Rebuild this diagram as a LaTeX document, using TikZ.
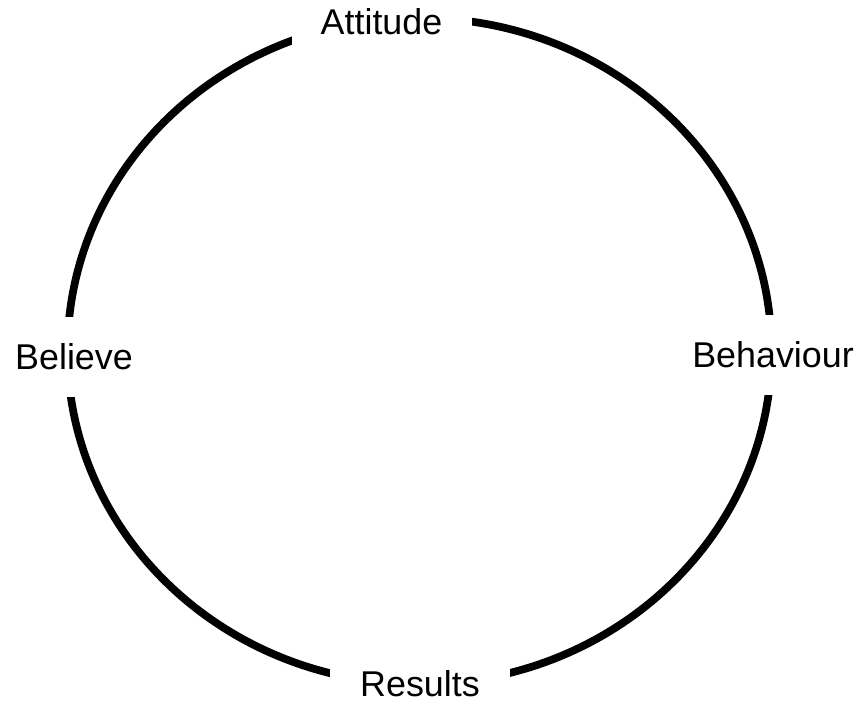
\documentclass[tikz,border=0pt]{standalone}
\usepackage{fontspec}
\setmainfont{Liberation Sans}
\usepackage{tikz}
\usetikzlibrary{positioning}

\begin{document}
\begin{tikzpicture}[
    ring/.style={line width=2.2pt},
    lbl/.style={fill=white, inner sep=0pt, align=center, font=\fontsize{10.2}{12}\selectfont},
    toplbl/.style={lbl, minimum width=1.8cm, minimum height=0.7cm},
    sidelbl/.style={lbl, minimum height=0.8cm}
]
\useasboundingbox (0,0) rectangle (8.64,7.03);
\draw[ring] (4.195,3.52) ellipse [x radius=3.52, y radius=3.33];
\node[toplbl] (att) at (3.815,6.815) {Attitude};
\node[sidelbl] (bel) at (0.74,3.465) {Believe};
\node[sidelbl] (beh) at (7.73,3.48) {Behaviour};
\node[toplbl] (res) at (4.20,0.195) {Results};
\end{tikzpicture}
\end{document}
